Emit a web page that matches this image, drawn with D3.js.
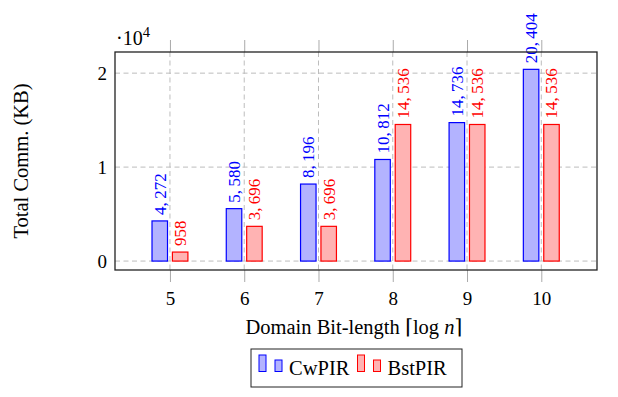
<!DOCTYPE html>
<html>
<head>
<meta charset="utf-8">
<script src="https://cdn.jsdelivr.net/npm/d3@7"></script>
<style>
  body { margin: 0; background: #fff; }
  svg text { font-family: "Liberation Serif", "DejaVu Serif", serif; }
  .grid line { stroke: #bdbdbd; stroke-dasharray: 5,3.5; stroke-width: 1; }
  .axis .domain { display: none; }
  .axis .tick line { stroke: #aaa; }
</style>
</head>
<body>
<div id="chart"></div>
<script>
var bits = [5, 6, 7, 8, 9, 10];
var cwpir = [4272, 5580, 8196, 10812, 14736, 20404];
var bstpir = [958, 3696, 3696, 14536, 14536, 14536];
var yTicks = [0, 1, 2];

var w = 618, h = 397;
var padL = 115, padR = 597, padT = 52, padB = 270;

var svg = d3.select("#chart").append("svg")
  .attr("width", w).attr("height", h);

var xScale = d3.scaleLinear().domain([4.26, 10.75]).range([padL, padR]);
var yScale = d3.scaleLinear().domain([-950, 22250]).range([padB, padT]);

// thousands separator with a thin space after the comma, like TeX math mode
var fmt = function(d) { return d3.format(",")(d).replace(",", ",\u2009"); };

// grid
var grid = svg.append("g").attr("class", "grid");
grid.selectAll(".gx").data(bits).enter().append("line")
  .attr("x1", function(d) { return xScale(d); })
  .attr("x2", function(d) { return xScale(d); })
  .attr("y1", padT).attr("y2", padB);
grid.selectAll(".gy").data(yTicks).enter().append("line")
  .attr("x1", padL).attr("x2", padR)
  .attr("y1", function(d) { return yScale(d * 1e4); })
  .attr("y2", function(d) { return yScale(d * 1e4); });

// outside tick marks (top and bottom)
var xAxisB = d3.axisBottom(xScale).tickValues(bits).tickSize(12).tickPadding(10)
  .tickFormat(d3.format("d"));
svg.append("g").attr("class", "axis")
  .attr("transform", "translate(0," + padB + ")")
  .call(xAxisB)
  .selectAll("text").attr("font-size", "19px").attr("fill", "#000")
  .attr("font-family", "Liberation Serif");

svg.append("g").attr("class", "axis")
  .attr("transform", "translate(0," + padT + ")")
  .call(d3.axisTop(xScale).tickValues(bits).tickSize(12).tickFormat(""));

var yAxis = d3.axisLeft(yScale).tickValues(yTicks.map(function(d) { return d * 1e4; }))
  .tickSize(0).tickPadding(8).tickFormat(function(d) { return d / 1e4; });
svg.append("g").attr("class", "axis")
  .attr("transform", "translate(" + padL + ",0)")
  .call(yAxis)
  .selectAll("text").attr("font-size", "19px").attr("fill", "#000")
  .attr("font-family", "Liberation Serif");

// bars
var bw = 15.5, off = 10.2;
var series = [
  { name: "CwPIR", values: cwpir, fill: "rgb(179,179,255)", stroke: "rgb(0,0,255)", dx: -off },
  { name: "BstPIR", values: bstpir, fill: "rgb(255,179,179)", stroke: "rgb(255,0,0)", dx: off }
];

series.forEach(function(s) {
  var g = svg.append("g");
  g.selectAll("rect").data(s.values).enter().append("rect")
    .attr("x", function(d, i) { return xScale(bits[i]) + s.dx - bw / 2; })
    .attr("y", function(d) { return yScale(d); })
    .attr("width", bw)
    .attr("height", function(d) { return yScale(0) - yScale(d); })
    .attr("fill", s.fill)
    .attr("stroke", s.stroke)
    .attr("stroke-width", 1.2);
  g.selectAll("text").data(s.values).enter().append("text")
    .attr("transform", function(d, i) {
      return "translate(" + (xScale(bits[i]) + s.dx) + "," + (yScale(d) - 6) + ") rotate(-90)";
    })
    .attr("dy", "0.35em")
    .attr("font-size", "17px")
    .attr("fill", s.stroke)
    .text(function(d) { return fmt(d); });
});

// frame
svg.append("rect")
  .attr("x", padL).attr("y", padT)
  .attr("width", padR - padL).attr("height", padB - padT)
  .attr("fill", "none").attr("stroke", "#222").attr("stroke-width", 1.3);

// exponent
var exp = svg.append("text").attr("x", 116).attr("y", 45).attr("font-size", "20px");
exp.append("tspan").text("\u00b710");
exp.append("tspan").attr("dy", -8).attr("font-size", "14.5px").text("4");

// axis labels
svg.append("text")
  .attr("transform", "translate(28," + ((padT + padB) / 2) + ") rotate(-90)")
  .attr("text-anchor", "middle")
  .attr("font-size", "20.5px")
  .text("Total Comm. (KB)");

var xl = svg.append("text")
  .attr("x", (padL + padR) / 2 - 2).attr("y", 334)
  .attr("text-anchor", "middle")
  .attr("font-size", "20.5px");
xl.append("tspan").text("Domain Bit-length \u2308log ");
xl.append("tspan").attr("font-style", "italic").text("n");
xl.append("tspan").text("\u2309");

// legend
var lg = svg.append("g");
lg.append("rect").attr("x", 251).attr("y", 349).attr("width", 211).attr("height", 38)
  .attr("fill", "#fff").attr("stroke", "#222").attr("stroke-width", 1);
var lx = [259, 357.5];
series.forEach(function(s, i) {
  var x0 = lx[i];
  lg.append("rect").attr("x", x0).attr("y", 355).attr("width", 7).attr("height", 16.5)
    .attr("fill", s.fill).attr("stroke", s.stroke);
  lg.append("rect").attr("x", x0 + 16).attr("y", 360).attr("width", 7).attr("height", 11.5)
    .attr("fill", s.fill).attr("stroke", s.stroke);
  lg.append("text").attr("x", x0 + 30).attr("y", 374.5).attr("font-size", "20.5px").text(s.name);
});
</script>
</body>
</html>
